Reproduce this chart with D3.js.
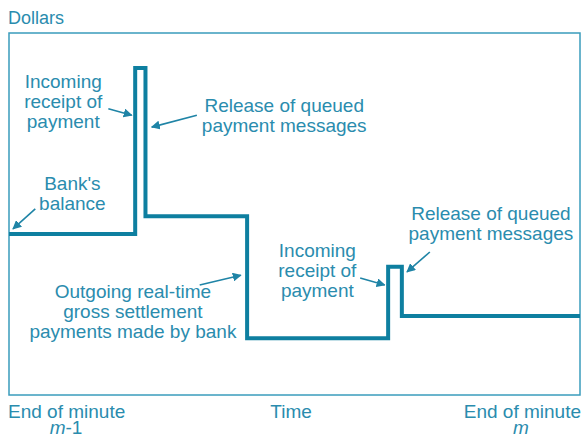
<!DOCTYPE html>
<html>
<head>
<meta charset="utf-8">
<script src="https://cdn.jsdelivr.net/npm/d3@7"></script>
<style>
  body { margin: 0; background: #fff; }
  svg text { font-family: "Liberation Sans", Arial, sans-serif; fill: #2a8cae; }
</style>
</head>
<body>
<svg width="585" height="438"></svg>
<script>
// balance path (time in % of the minute, balance in arbitrary dollars)
const stepTimes = [0, 22.1, 23.9, 41.7, 66.4, 68.8, 100];
const stepValues = [44.5, 90.3, 49.4, 15.7, 35.4, 21.8, 21.8];

const axisLabels = ["End of minute", "Time", "End of minute"];

// annotations: text lines, anchor point in data units, arrow from/to in data units
const notes = [
  {lines: ["Incoming", "receipt of", "payment"], x: 9.5, y: 84.8, from: [17.4, 79.1], to: [21.5, 77.3]},
  {lines: ["Release of queued", "payment messages"], x: 48.2, y: 78.2, from: [32.9, 77.3], to: [25.0, 74.0]},
  {lines: ["Bank's", "balance"], x: 11.1, y: 56.6, from: [4.6, 51.4], to: [0.7, 45.9]},
  {lines: ["Outgoing real-time", "gross settlement", "payments made by bank"], x: 21.7, y: 26.8, from: [33.4, 30.4], to: [40.6, 33.1]},
  {lines: ["Incoming", "receipt of", "payment"], x: 54.0, y: 38.1, from: [61.5, 32.3], to: [65.8, 30.4]},
  {lines: ["Release of queued", "payment messages"], x: 84.4, y: 48.3, from: [73.7, 39.5], to: [69.7, 34.0]}
];

const svg = d3.select("svg");
const mLeft = 9, mRight = 580, mTop = 33, mBottom = 395;

const x = d3.scaleLinear().domain([0, 100]).range([mLeft, mRight]);
const y = d3.scaleLinear().domain([0, 100]).range([mBottom, mTop]);

svg.append("defs").append("marker")
  .attr("id", "head")
  .attr("viewBox", "0 0 10 10")
  .attr("refX", 9).attr("refY", 5)
  .attr("markerWidth", 9).attr("markerHeight", 9)
  .attr("markerUnits", "userSpaceOnUse")
  .attr("orient", "auto")
  .append("path")
  .attr("d", "M0,0 L10,5 L0,10 Z")
  .attr("fill", "#1f84a6");

// frame
svg.append("rect")
  .attr("x", mLeft).attr("y", mTop)
  .attr("width", mRight - mLeft).attr("height", mBottom - mTop)
  .attr("fill", "none")
  .attr("stroke", "#3a9cbc")
  .attr("stroke-width", 1.5);

svg.append("text").attr("x", 8).attr("y", 24)
  .style("font-size", "18px").text("Dollars");

// step line
const pts = stepTimes.map((t, i) => [t, stepValues[i]]);
const line = d3.line()
  .x(d => x(d[0]))
  .y(d => y(d[1]))
  .curve(d3.curveStepAfter);

svg.append("path")
  .datum(pts)
  .attr("d", line)
  .attr("fill", "none")
  .attr("stroke", "#0e7fa0")
  .attr("stroke-width", 4)
  .attr("stroke-linejoin", "miter");

// annotations
notes.forEach(n => {
  const t = svg.append("text")
    .attr("text-anchor", "middle")
    .style("font-size", "19px");
  n.lines.forEach((l, i) => {
    t.append("tspan")
      .attr("x", x(n.x))
      .attr("y", y(n.y) + i * 20)
      .text(l);
  });
  svg.append("line")
    .attr("x1", x(n.from[0])).attr("y1", y(n.from[1]))
    .attr("x2", x(n.to[0])).attr("y2", y(n.to[1]))
    .attr("stroke", "#1f84a6")
    .attr("stroke-width", 1.6)
    .attr("marker-end", "url(#head)");
});

// bottom labels
svg.append("text").attr("x", 8).attr("y", 418)
  .style("font-size", "19px").text(axisLabels[0]);
svg.append("text").attr("x", x(49.4)).attr("y", 418)
  .attr("text-anchor", "middle")
  .style("font-size", "19px").text(axisLabels[1]);
svg.append("text").attr("x", 581).attr("y", 418)
  .attr("text-anchor", "end")
  .style("font-size", "19px").text(axisLabels[2]);

const m1 = svg.append("text").attr("x", 66).attr("y", 434)
  .attr("text-anchor", "middle").style("font-size", "19px");
m1.append("tspan").style("font-style", "italic").text("m");
m1.append("tspan").text("-1");

svg.append("text").attr("x", 521).attr("y", 434)
  .attr("text-anchor", "middle")
  .style("font-size", "19px").style("font-style", "italic").text("m");
</script>
</body>
</html>
